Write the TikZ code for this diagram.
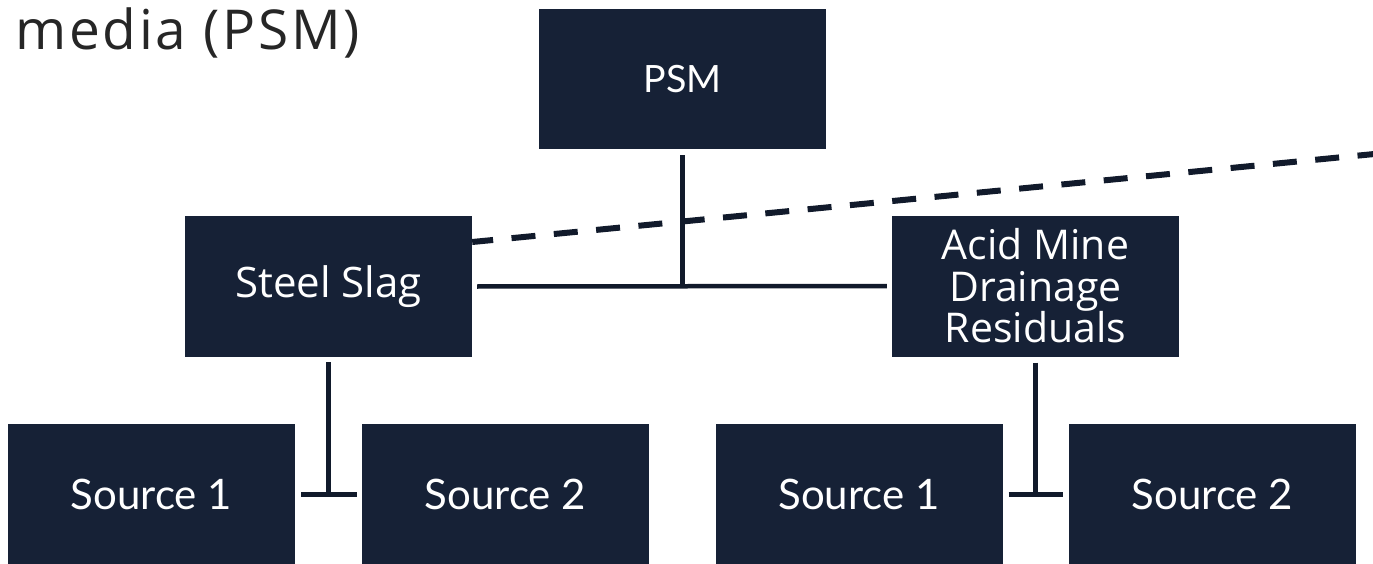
\documentclass[tikz,border=0pt]{standalone}
\usepackage{fontspec}
\newfontfamily\boxfont{Open Sans}
\newfontfamily\labelfont{Lato}
\newfontfamily\titlefont[LetterSpace=5]{Open Sans}
\definecolor{boxfill}{HTML}{162136}
\definecolor{linecol}{HTML}{111A2B}
\definecolor{titlecol}{HTML}{262626}
\tikzset{
  orgbox/.style={fill=boxfill, text=white, minimum width=287pt, minimum height=141pt,
    inner sep=0pt, align=center},
  wordsbox/.style={orgbox, font={\boxfont\fontsize{42}{41.5}\selectfont}},
  namebox/.style={orgbox, font={\labelfont\fontsize{42}{48}\selectfont}},
  link/.style={draw=linecol, line width=4.5pt},
  cutline/.style={draw=linecol, line width=6pt, dash pattern=on 24pt off 18.5pt, dash phase=3pt}
}
\begin{document}
\begin{tikzpicture}[x=1pt, y=-1pt]
  \useasboundingbox (0,0) rectangle (1373,563);
  \clip (0,0) rectangle (1373,563);

  % heading fragment
  \node[anchor=base west, inner sep=0pt, text=titlecol,
        font={\titlefont\fontsize{55}{62}\selectfont}] (title) at (15,49) {media (PSM)};

  % boxes
  \node[namebox, minimum height=140pt, font={\labelfont\fontsize{37.6}{44}\selectfont}] (psm) at (682.5,79) {PSM};
  \node[wordsbox] (ss) at (328.5,286.5) {Steel Slag};
  \node[wordsbox, font={\boxfont\fontsize{41}{41.5}\selectfont}] (amd) at (1035.5,286) {Acid Mine\\Drainage\\Residuals};
  \node[namebox] (s1l) at (151.5,494.5) {Source 1};
  \node[namebox] (s2l) at (505.5,494.5) {Source 2};
  \node[namebox] (s1r) at (859,494.5) {Source 1};
  \node[namebox] (s2r) at (1212.5,494.5) {Source 2};

  % tree connectors
  \draw[link, shorten <=6pt] (psm.south) -- (psm.south |- ss.east);
  \draw[link, shorten <=5pt, shorten >=5pt] (ss.east) -- (amd.west);
  \draw[link, shorten <=5pt] (ss.south) -- (ss.south |- s1l.east);
  \draw[link, shorten <=6pt, shorten >=5pt] (s1l.east) -- (s2l.west);
  \draw[link, shorten <=6pt] (amd.south) -- (amd.south |- s1r.east);
  \draw[link, shorten <=6pt, shorten >=6pt] (s1r.east) -- (s2r.west);

  % dashed cut line
  \coordinate (cutend) at (1400,151.5);
  \draw[cutline] ([yshift=44.5pt]ss.east) -- (cutend);
\end{tikzpicture}
\end{document}
